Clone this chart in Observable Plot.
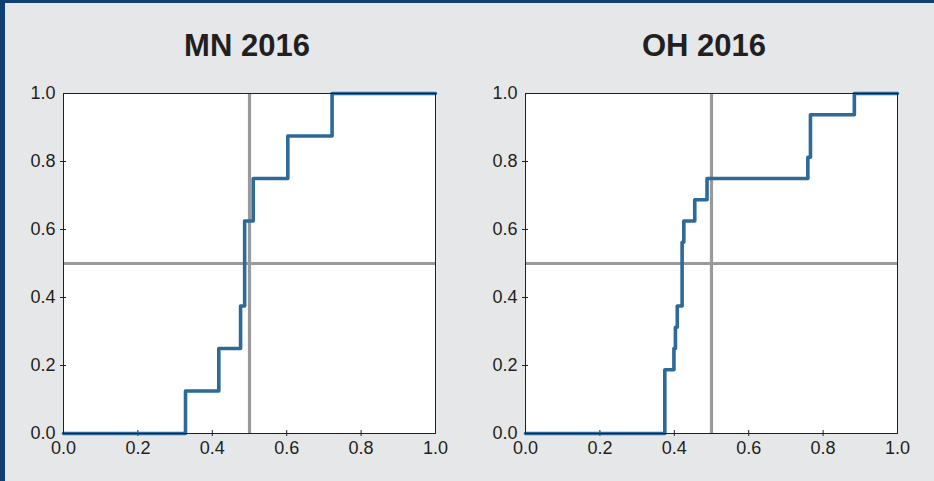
<!DOCTYPE html>
<html><head><meta charset="utf-8">
<script src="https://cdn.jsdelivr.net/npm/d3@7"></script>
<script src="https://cdn.jsdelivr.net/npm/@observablehq/plot@0.6"></script>
<style>
html,body{margin:0;padding:0;background:#e6e7e9;}
#wrap{position:relative;width:934px;height:481px;background:#e6e7e9;overflow:hidden;font-family:"Liberation Sans",Arial,sans-serif;}
.bt{position:absolute;left:0;top:0;width:934px;height:3px;background:#0f3f73;}
.bl{position:absolute;left:0;top:0;width:5px;height:481px;background:#0f3f73;}
.title{position:absolute;top:30px;line-height:31px;font-weight:bold;font-size:31px;color:#231f20;transform:translateX(-50%);white-space:nowrap;}
.panel{position:absolute;top:70px;}
</style></head>
<body>
<div id="wrap">
  <div class="bt"></div><div class="bl"></div>
  <div class="title" id="t1" style="left:247px"></div>
  <div class="title" id="t2" style="left:704px"></div>
  <div class="panel" id="p1" style="left:0px"></div>
  <div class="panel" id="p2" style="left:462px"></div>
</div>
<script>
const titles = ["MN 2016", "OH 2016"];
// step positions (x) and CDF level reached at each step
const mnX = [0.328, 0.4175, 0.476, 0.487, 0.51, 0.603, 0.722];
const mnY = [0.125, 0.25, 0.375, 0.625, 0.75, 0.875, 1.0];
const ohX = [0.3745, 0.399, 0.403, 0.408, 0.421, 0.4256, 0.455, 0.488, 0.759, 0.766, 0.884];
const ohY = [0.1875, 0.25, 0.3125, 0.375, 0.5625, 0.625, 0.6875, 0.75, 0.8125, 0.9375, 1.0];
const tickLabels = [0, 0.2, 0.4, 0.6, 0.8, 1.0];
const innerTicks = [0.2, 0.4, 0.6, 0.8];
const refLine = 0.5;

const fmt = d3.format(".1f");
const ink = "#231f20";

function panel(xs, ys) {
  const pts = [{x: 0, y: 0}, ...xs.map((x, i) => ({x, y: ys[i]})), {x: 1, y: 1}];
  return Plot.plot({
    width: 467, height: 400,
    marginLeft: 63, marginRight: 32, marginTop: 23, marginBottom: 37,
    style: {background: "transparent", fontFamily: "'Liberation Sans', Arial, sans-serif", fontSize: "18px", color: ink, overflow: "visible"},
    x: {domain: [0, 1]},
    y: {domain: [0, 1]},
    marks: [
      Plot.frame({fill: "white"}),
      Plot.ruleX([refLine], {stroke: "#9a9a9c", strokeWidth: 3.2}),
      Plot.ruleY([refLine], {stroke: "#9a9a9c", strokeWidth: 3.2}),
      Plot.axisX(innerTicks, {tickSize: -3, tickFormat: () => "", label: null, stroke: ink}),
      Plot.axisX(innerTicks, {tickSize: 3, tickFormat: () => "", label: null, stroke: ink}),
      Plot.axisX(tickLabels, {tickSize: 0, tickPadding: 8, tickFormat: fmt, label: null, fill: ink, fontSize: 18}),
      Plot.axisY(innerTicks, {tickSize: -3, tickFormat: () => "", label: null, stroke: ink}),
      Plot.axisY(innerTicks, {tickSize: 3, tickFormat: () => "", label: null, stroke: ink}),
      Plot.axisY(tickLabels, {tickSize: 0, tickPadding: 8, tickFormat: fmt, label: null, fill: ink, fontSize: 18}),
      Plot.line(pts, {x: "x", y: "y", curve: "step-after", stroke: "#2d6a98", strokeWidth: 3.6}),
      Plot.frame({stroke: ink, strokeWidth: 1})
    ]
  });
}
document.getElementById("t1").textContent = titles[0];
document.getElementById("t2").textContent = titles[1];
document.getElementById("p1").appendChild(panel(mnX, mnY));
document.getElementById("p2").appendChild(panel(ohX, ohY));
</script>
</body></html>
